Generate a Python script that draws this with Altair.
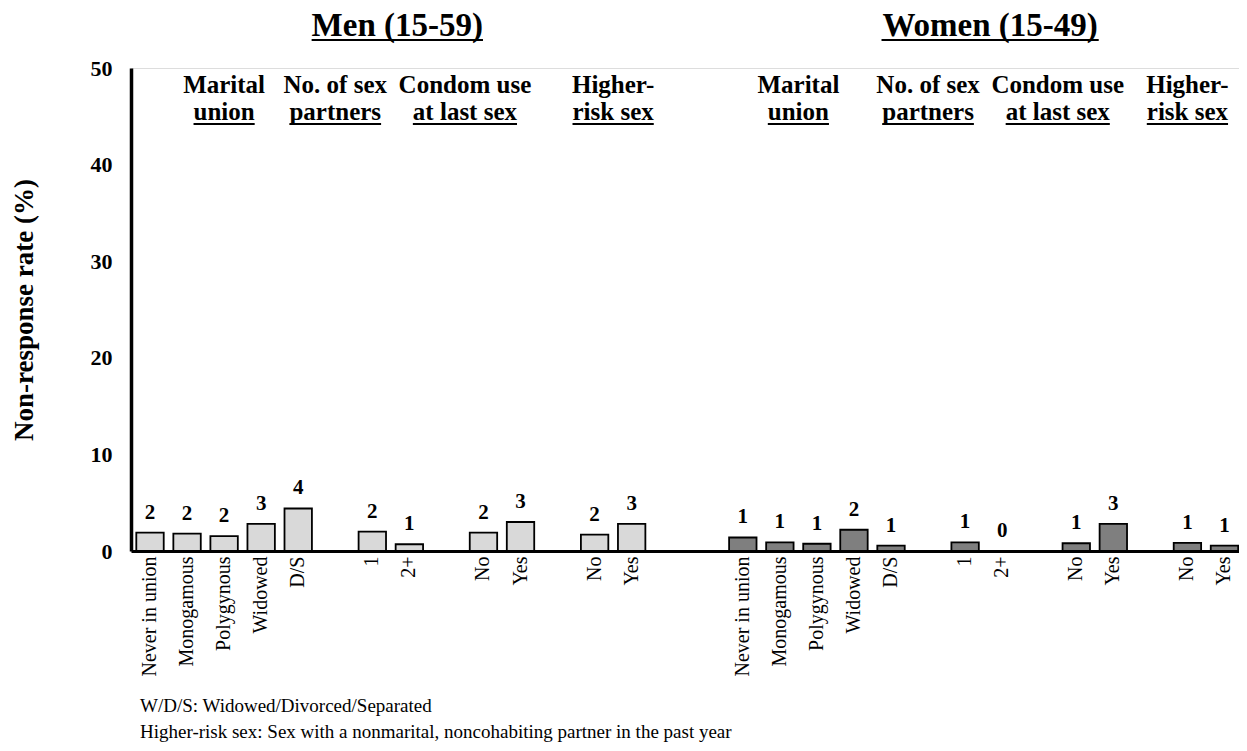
import altair as alt
import pandas as pd

FONT = "Liberation Serif"

# ---------------- data ----------------
panels = ["Men (15-59)", "Women (15-49)"]
groups = ["Marital union", "No. of sex partners", "Condom use at last sex", "Higher-risk sex"]
group_categories = [
    ["Never in union", "Monogamous", "Polygynous", "Widowed", "D/S"],
    ["1", "2+"],
    ["No", "Yes"],
    ["No", "Yes"],
]
men_values = [1.9, 1.8, 1.55, 2.8, 4.4, 2.0, 0.7, 1.9, 3.0, 1.7, 2.8]
women_values = [1.4, 0.9, 0.75, 2.2, 0.55, 0.9, 0.0, 0.8, 2.8, 0.85, 0.55]
header_line1 = ["Marital", "No. of sex", "Condom use", "Higher-"]
header_line2 = ["union", "partners", "at last sex", "risk sex"]
footnotes = [
    "W/D/S: Widowed/Divorced/Separated",
    "Higher-risk sex: Sex with a nonmarital, noncohabiting partner in the past year",
]
panel_colors = ["#d9d9d9", "#7f7f7f"]

# ---------------- style constants ----------------
HEAD_SIZE = 25
TITLE_SIZE = 33
STEP = 37.05
HALF = STEP / 2

# Times/Liberation Serif Bold advance widths (per 1000 em) for underline lengths
BOLD_W = {" ": 250, "(": 333, ")": 333, "-": 333, ".": 250, "a": 500, "e": 444,
          "i": 278, "k": 556, "l": 278, "m": 833, "n": 556, "o": 500, "p": 556,
          "r": 444, "s": 389, "t": 333, "u": 556, "x": 500, "M": 944, "W": 1000}


def text_width(s, size):
    return sum(BOLD_W.get(ch, 500) for ch in s) * size / 1000.0


# ---------------- slot domain (bars + spacers) ----------------
domain = []
bar_rows = []
first_slot = {}
spacer_count = [0]


def add_spacer():
    domain.append(f"gap{spacer_count[0]}|")
    spacer_count[0] += 1


for p_i, (panel, vals) in enumerate(zip(panels, [men_values, women_values])):
    if p_i > 0:
        for _ in range(2):
            add_spacer()
    v = 0
    for g_i, (grp, cats) in enumerate(zip(groups, group_categories)):
        if g_i > 0:
            add_spacer()
        first_slot[(p_i, g_i)] = len(domain)
        for c in cats:
            key = f"{p_i}-{g_i}-{c}|{c}"
            domain.append(key)
            bar_rows.append({"slot": key, "value": vals[v], "panel": panel, "group": grp})
            v += 1

bar_df = pd.DataFrame(bar_rows)

# header anchors: (offset from group's first slot, shifted half a step)
header_anchor = [
    [(2, False), (-1, False), (-1, True), (0, True)],
    [(1, True), (-1, False), (-1, True), (0, False)],
]

# ---------------- encodings ----------------
X = alt.X(
    "slot:N",
    sort=domain,
    scale=alt.Scale(domain=domain, paddingInner=0.26, paddingOuter=0.0826, align=0.866),
    axis=alt.Axis(
        title=None, labelAngle=-90, labelExpr="split(datum.value, '|')[1]",
        labelFont=FONT, labelFontSize=20, labelColor="black", ticks=False,
        labelPadding=5, domainColor="black", domainWidth=3, grid=False,
        labelAlign="right", labelBaseline="middle",
    ),
)
Y = alt.Y(
    "value:Q",
    scale=alt.Scale(domain=[0, 50]),
    axis=alt.Axis(
        values=[0, 10, 20, 30, 40, 50], title="Non-response rate (%)",
        titleFont=FONT, titleFontSize=27, titleFontWeight="bold", titleColor="black",
        titlePadding=52, labelFont=FONT, labelFontSize=22, labelFontWeight="bold",
        labelColor="black", labelPadding=19, ticks=False, grid=False,
        domainColor="black", domainWidth=3.5,
    ),
)

bars = alt.Chart(bar_df).mark_bar(stroke="black", strokeWidth=1.8).encode(
    x=X, y=Y,
    color=alt.Color("panel:N", scale=alt.Scale(domain=panels, range=panel_colors), legend=None),
)

values = alt.Chart(bar_df).mark_text(
    dy=-14, baseline="alphabetic", font=FONT, fontSize=21, fontWeight="bold", color="black"
).encode(x=X, y=Y, text=alt.Text("value:Q", format=".0f"))

layers = [bars, values]

HEAD_Y1 = 25
HEAD_LH = 27
for p_i in range(2):
    for g_i in range(4):
        off, half = header_anchor[p_i][g_i]
        slot = domain[first_slot[(p_i, g_i)] + off]
        dx = HALF if half else 0
        df = pd.DataFrame({"slot": [slot], "l1": [header_line1[g_i]], "l2": [header_line2[g_i]]})
        base = alt.Chart(df)
        layers.append(base.mark_text(
            font=FONT, fontSize=HEAD_SIZE, fontWeight="bold", color="black",
            baseline="alphabetic", align="center", dx=dx,
        ).encode(x=X, y=alt.value(HEAD_Y1), text="l1:N"))
        layers.append(base.mark_text(
            font=FONT, fontSize=HEAD_SIZE, fontWeight="bold", color="black",
            baseline="alphabetic", align="center", dx=dx,
        ).encode(x=X, y=alt.value(HEAD_Y1 + HEAD_LH), text="l2:N"))
        w = text_width(header_line2[g_i], HEAD_SIZE)
        layers.append(base.mark_rule(
            color="black", strokeWidth=2, xOffset=dx - w / 2, x2Offset=dx + w / 2,
        ).encode(x=X, x2=alt.X2("slot:N"), y=alt.value(HEAD_Y1 + HEAD_LH + 4)))

TITLE_Y = -32
TITLE_DX = 25
for p_i, panel in enumerate(panels):
    slot = domain[first_slot[(p_i, 1)]]
    df = pd.DataFrame({"slot": [slot], "txt": [panel]})
    base = alt.Chart(df)
    layers.append(base.mark_text(
        font=FONT, fontSize=TITLE_SIZE, fontWeight="bold", color="black",
        baseline="alphabetic", align="center", dx=TITLE_DX,
    ).encode(x=X, y=alt.value(TITLE_Y), text="txt:N"))
    w = text_width(panel, TITLE_SIZE)
    layers.append(base.mark_rule(
        color="black", strokeWidth=2.2, xOffset=TITLE_DX - w / 2, x2Offset=TITLE_DX + w / 2,
    ).encode(x=X, x2=alt.X2("slot:N"), y=alt.value(TITLE_Y + 4)))

chart = alt.layer(*layers).properties(
    width=1108,
    height=483,
    autosize=alt.AutoSizeParams(type="none"),
    padding={"left": 123, "top": 60, "right": 0, "bottom": 192},
    title=alt.TitleParams(
        text=footnotes, orient="bottom", anchor="start", frame="group",
        font=FONT, fontSize=19, fontWeight="normal", color="black",
        lineHeight=26, offset=21, dx=9,
    ),
).configure_view(stroke=None).configure(font=FONT, background="white")

chart.save("out.html", embed_options={"renderer": "svg", "actions": False})
